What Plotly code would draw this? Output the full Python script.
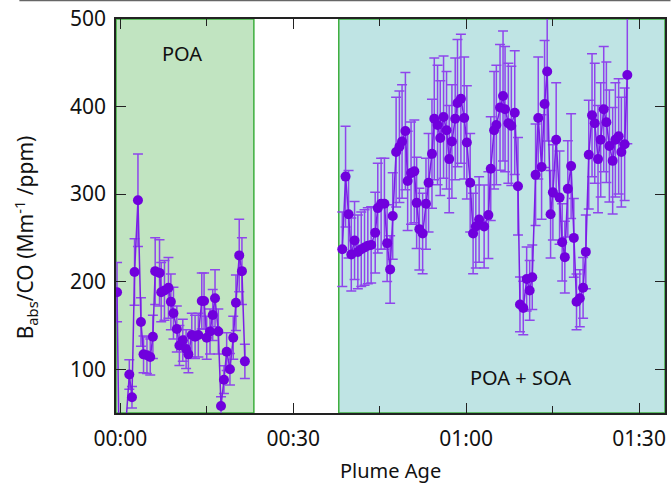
import plotly.graph_objects as go

# ---- data (minutes of plume age, Babs/CO) ----
poa_time = [-0.57, -0.07, 1.56, 2.02, 2.47, 3.06, 3.58, 4.03, 4.62, 5.19, 5.65, 6.05, 6.80, 7.09,
            7.66, 8.35, 8.77, 9.22, 9.80, 10.25, 10.84, 11.41, 11.81, 12.40, 12.97, 13.54, 14.13,
            14.53, 14.99, 15.56, 16.03, 16.43, 17.00, 17.47, 17.98, 18.45, 19.02, 19.59, 20.06,
            20.63, 21.10, 21.61]
poa_value = [188, -60, 94, 68, 211, 293, 154, 117, 116, 114, 137, 212, 210, 188,
             190, 193, 177, 164, 146, 127, 133, 123, 117, 139, 137, 139, 178,
             178, 136, 143, 162, 181, 143, 58, 88, 120, 100, 136, 176,
             230, 212, 109]

soa_time = [38.51, 39.08, 39.60, 40.07, 40.64, 41.21, 41.80, 42.37, 42.94, 43.52, 44.22, 44.67,
            45.25, 45.82, 46.29, 46.81, 47.26, 47.85, 48.42, 48.88, 49.46, 49.85, 50.44, 51.01,
            51.41, 51.88, 52.45, 53.03, 53.48, 54.07, 54.47, 55.04, 55.51, 56.08, 56.60, 57.06,
            57.53, 58.10, 58.50, 59.09, 59.66, 60.12, 60.70, 61.21, 61.68, 62.25, 63.12, 63.86,
            64.27, 64.85, 65.24, 65.88, 66.40, 66.75, 67.32, 67.84, 68.43, 68.99, 69.34, 69.91,
            70.50, 71.02, 71.47, 72.05, 72.51, 73.09, 73.61, 74.06, 74.65, 75.05, 75.62, 76.21,
            76.66, 77.12, 77.64, 78.21, 78.68, 79.15, 79.72, 80.29, 80.76, 81.27, 81.84, 82.31,
            82.88, 83.35, 83.87, 84.33, 84.85, 85.42, 85.89, 86.46, 86.93, 87.50, 87.96]
soa_value = [237, 320, 277, 231, 247, 234, 237, 239, 241, 242, 256, 284,
             289, 289, 244, 214, 275, 348, 354, 360, 372, 315, 324, 326,
             290, 260, 255, 289, 313, 346, 386, 379, 364, 388, 373, 340,
             360, 386, 404, 409, 387, 359, 313, 255, 263, 271, 263, 276,
             329, 373, 379, 399, 412, 397, 381, 378, 393, 309, 174, 170,
             203, 190, 205, 322, 387, 331, 403, 440, 277, 302, 362, 296,
             245, 228, 306, 332, 250, 177, 181, 193, 234, 345, 390, 381,
             340, 362, 397, 382, 355, 338, 362, 366, 348, 357, 436]

error_percent = 18

x_tick_vals = [0, 30, 60, 90]
x_tick_text = ["00:00", "00:30", "01:00", "01:30"]
y_tick_vals = [100, 200, 300, 400, 500]

poa_window = (-0.75, 23.17)
soa_window = (37.9, 94.5)
x_range = [-0.75, 94.5]
y_range = [50, 500]

# ---- styles ----
FONT = "Noto Sans"
MARK = "#7000DD"
ERR = "#8F45EC"
LINE = "#7A1EE6"

fig = go.Figure()
for t, v in [(poa_time, poa_value), (soa_time, soa_value)]:
    fig.add_trace(go.Scatter(
        x=t, y=v, mode="lines+markers",
        line=dict(color=LINE, width=1.5),
        marker=dict(color=MARK, size=10),
        error_y=dict(type="percent", value=error_percent, color=ERR,
                     thickness=1.5, width=5),
        showlegend=False,
    ))

fig.add_shape(type="rect", xref="x", yref="y", x0=poa_window[0], x1=poa_window[1],
              y0=y_range[0], y1=y_range[1], fillcolor="#C1E4C1",
              line=dict(color="#3DAE3D", width=1.5), layer="below")
fig.add_shape(type="rect", xref="x", yref="y", x0=soa_window[0], x1=soa_window[1],
              y0=y_range[0], y1=y_range[1], fillcolor="#BFE4E4",
              line=dict(color="#3DAE3D", width=1.5), layer="below")
# thin grey rule at the very top of the image
fig.add_shape(type="line", xref="paper", yref="paper", x0=-0.176, x1=1.01,
              y0=1.047, y1=1.047, line=dict(color="#666666", width=1.5))

fig.add_annotation(x=10.66, y=461, xref="x", yref="y", text="POA", showarrow=False,
                   font=dict(family=FONT, size=20, color="#111"))
fig.add_annotation(x=69.5, y=90, xref="x", yref="y", text="POA + SOA", showarrow=False,
                   font=dict(family=FONT, size=20, color="#111"))
fig.add_annotation(x=-0.165, y=0.447, xref="paper", yref="paper",
                   text="B<sub>abs</sub>/CO (Mm<sup>-1</sup> /ppm)", textangle=-90,
                   showarrow=False, xanchor="center", yanchor="middle",
                   font=dict(family=FONT, size=21, color="#111"))
fig.add_annotation(x=0.5, y=-0.147, xref="paper", yref="paper", text="Plume Age",
                   showarrow=False, xanchor="center", yanchor="middle",
                   font=dict(family=FONT, size=20, color="#111"))

axis_common = dict(showgrid=False, zeroline=False, showline=True, linecolor="#222",
                   linewidth=1.5, mirror="ticks", ticks="inside", ticklen=10,
                   tickwidth=1.2, tickcolor="#222",
                   tickfont=dict(family=FONT, size=21, color="#111"))

fig.update_xaxes(range=x_range, tickmode="array", tickvals=x_tick_vals,
                 ticktext=x_tick_text, ticklabelstandoff=6,
                 minor=dict(dtick=15, tick0=0, ticks="inside", ticklen=7,
                            tickwidth=1.2, tickcolor="#222"),
                 **axis_common)
fig.update_yaxes(range=y_range, tickmode="array", tickvals=y_tick_vals,
                 ticklabelstandoff=4, **axis_common)

fig.update_layout(width=671, height=486, margin=dict(l=116, r=4, t=19, b=73),
                  plot_bgcolor="white", paper_bgcolor="white",
                  font=dict(family=FONT))

fig.write_html("out.html")
